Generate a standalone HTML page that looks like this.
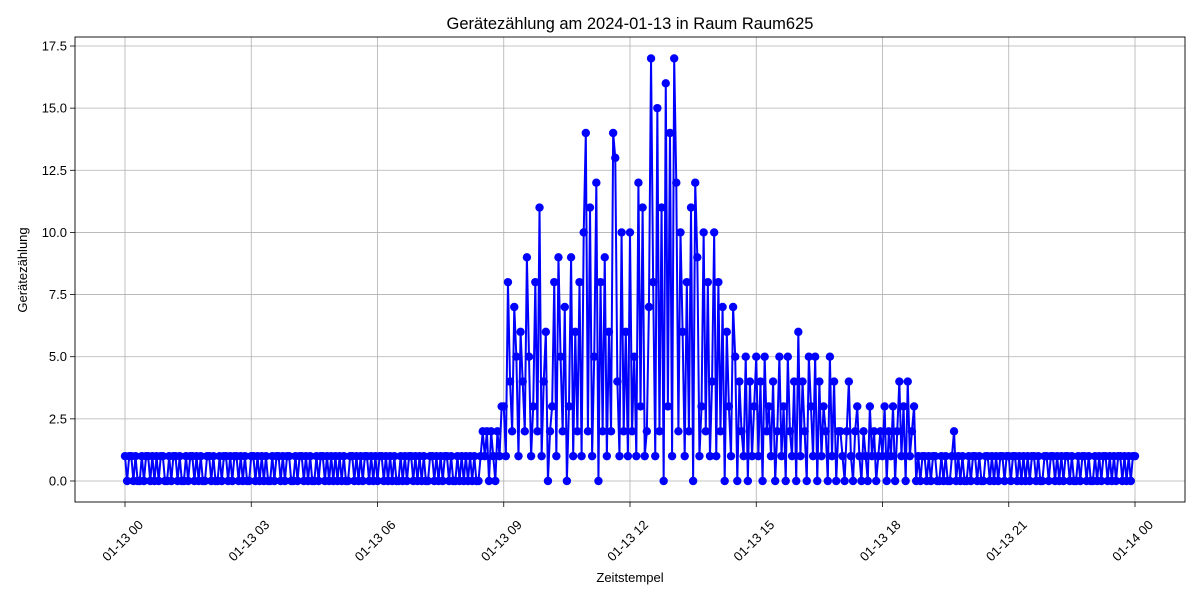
<!DOCTYPE html>
<html><head><meta charset="utf-8"><style>
body{margin:0;background:#fff;}
svg text{font-family:"Liberation Sans","DejaVu Sans",sans-serif;}
</style></head><body>
<svg id="chart" width="1200" height="600" xmlns="http://www.w3.org/2000/svg">
<rect width="1200" height="600" fill="#fff"/>
<text x="630" y="29" text-anchor="middle" font-size="16.5">Gerätezählung am 2024-01-13 in Raum Raum625</text>
<text x="630" y="582" text-anchor="middle" font-size="13">Zeitstempel</text>
<text x="27" y="270" text-anchor="middle" font-size="13" transform="rotate(-90 27 270)">Gerätezählung</text>
<g id="grid"></g><g id="series"></g><g id="axes"></g>
</svg>
<script>
const xTickLabels=["01-13 00","01-13 03","01-13 06","01-13 09","01-13 12","01-13 15","01-13 18","01-13 21","01-14 00"];
const xTickHours=[0,3,6,9,12,15,18,21,24];
const yTicks=[0,2.5,5,7.5,10,12.5,15,17.5];
const stepMinutes=3;
const counts=[
1,0,1,1,0,1,0,0,1,0,1,1,0,1,0,1,0,1,1,0,
0,1,0,1,1,0,1,0,0,1,0,1,1,0,1,0,1,0,0,1,
1,0,1,0,0,1,0,1,1,0,1,0,1,1,0,1,0,1,0,0,
1,1,0,1,0,1,0,1,0,0,1,0,1,1,0,1,0,1,1,0,
0,1,0,1,1,0,1,0,1,0,0,1,0,1,1,0,1,0,1,0,
1,0,1,0,1,0,0,1,1,0,1,0,1,0,1,1,0,1,0,1,
0,1,1,0,1,0,1,0,1,0,0,1,0,1,0,1,1,0,1,0,
1,0,1,0,0,1,1,0,1,0,1,0,1,1,0,1,0,0,1,0,
1,0,1,0,1,0,1,0,0,1,2,1,2,0,2,1,0,2,1,3,
3,1,8,4,2,7,5,1,6,4,2,9,5,1,3,8,2,11,1,4,
6,0,2,3,8,1,9,5,2,7,0,3,9,1,6,2,8,1,10,14,
2,11,1,5,12,0,8,2,9,1,6,2,14,13,4,1,10,2,6,1,
10,2,5,1,12,3,11,1,2,7,17,8,1,15,2,11,0,16,3,14,
1,17,12,2,10,6,1,8,2,11,0,12,9,1,3,10,2,8,1,4,
10,1,8,2,7,0,6,3,1,7,5,0,4,2,1,5,0,4,1,3,
5,1,4,0,5,2,3,1,4,0,2,5,1,3,0,5,2,1,4,0,
6,1,4,2,0,5,3,1,5,0,4,1,3,2,0,5,1,4,0,2,
2,1,0,2,4,1,0,2,3,1,0,2,1,0,3,1,2,0,1,2,
1,3,0,2,1,3,0,2,4,1,3,0,4,1,2,3,0,1,0,1,
1,0,1,0,1,1,0,0,1,0,1,0,0,1,2,0,1,0,1,0,
0,1,0,1,1,0,1,0,0,1,1,0,1,0,1,0,1,1,0,1,
1,0,1,1,0,1,0,1,0,1,0,1,1,0,1,0,0,1,1,0,
1,1,0,1,0,1,0,1,1,0,1,0,0,1,0,1,1,0,1,0,
0,1,0,1,0,1,1,0,1,0,1,0,1,1,0,1,0,1,0,1,
1];
const NS="http://www.w3.org/2000/svg";
const X0=75,X1=1185,Y0=37,Y1=502;
const xScale=h=>125+h*(1010/24);
const yScale=v=>481-v*(435/17.5);
function mk(tag,attrs,parent){const e=document.createElementNS(NS,tag);for(const k in attrs)e.setAttribute(k,attrs[k]);parent.appendChild(e);return e;}
const grid=document.getElementById('grid'),axes=document.getElementById('axes'),series=document.getElementById('series');
xTickHours.forEach((h,i)=>{
  const x=xScale(h);
  const g=mk('line',{x1:x,x2:x,y1:Y0,y2:Y1,stroke:'#b0b0b0','stroke-width':0.8},grid);
  
  
  const t=mk('line',{x1:x,x2:x,y1:Y1,y2:Y1+5,stroke:'#000','stroke-width':0.8},axes);
  
  
  const lx=x-2,ly=Y1+43;
  const lab=mk('text',{x:lx,y:ly,'text-anchor':'middle','font-size':13,transform:`rotate(-45 ${lx} ${ly-4})`},axes);
  lab.textContent=xTickLabels[i];
  
  
});
yTicks.forEach(v=>{
  const y=yScale(v);
  const g=mk('line',{x1:X0,x2:X1,y1:y,y2:y,stroke:'#b0b0b0','stroke-width':0.8},grid);
  
  
  const t=mk('line',{x1:X0-5,x2:X0,y1:y,y2:y,stroke:'#000','stroke-width':0.8},axes);
  
  
  const lab=mk('text',{x:X0-8,y:y+4.5,'text-anchor':'end','font-size':13},axes);
  lab.textContent=v.toFixed(1);
  
  
});
const frame=mk('rect',{x:X0,y:Y0,width:X1-X0,height:Y1-Y0,fill:'none',stroke:'#000','stroke-width':0.9},axes);


const pts=counts.map((v,i)=>[xScale(i*stepMinutes/60),yScale(v)]);
const line=mk('polyline',{points:pts.map(p=>p.join(',')).join(' '),fill:'none',stroke:'#0000ff','stroke-width':2,'stroke-linejoin':'round'},series);


pts.forEach(p=>{
  const c=mk('circle',{cx:p[0],cy:p[1],r:4.2,fill:'#0000ff'},series);
  
  
});
</script>
</body></html>
